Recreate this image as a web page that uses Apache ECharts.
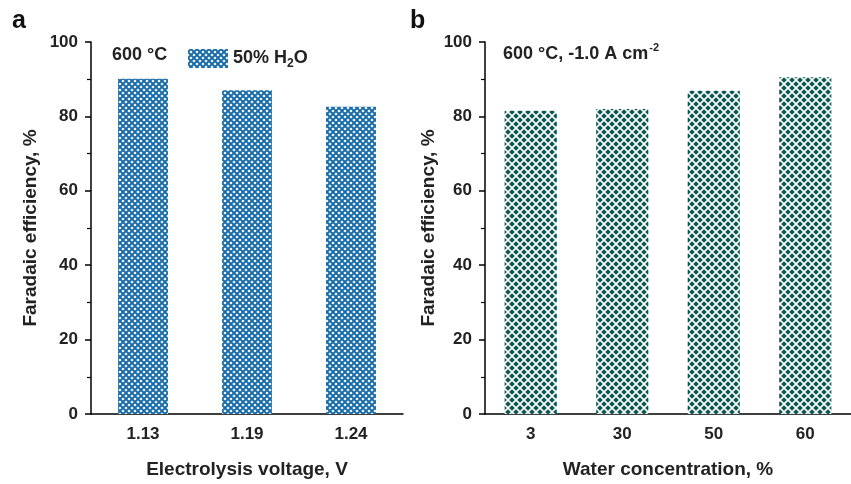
<!DOCTYPE html>
<html><head><meta charset="utf-8">
<script src="https://cdn.jsdelivr.net/npm/echarts@6/dist/echarts.min.js"></script>
<style>html,body{margin:0;padding:0;background:#fff}#c{width:851px;height:484px}</style>
</head><body><div id="c"></div>
<script>
// Panel a data
const voltageCats = ['1.13', '1.19', '1.24'];
const voltageFE = [90.1, 87.0, 82.6];
// Panel b data
const waterCats = ['3', '30', '50', '60'];
const waterFE = [81.5, 82.0, 86.9, 90.5];
const yTicks = [0, 20, 40, 60, 80, 100];

const FONT = '"Liberation Sans", Arial, sans-serif';
const BLUE = '#1b6ca8';
const TEAL = '#0b5852';

function diamond(g, cx, cy, r) {
  g.beginPath(); g.moveTo(cx, cy - r); g.lineTo(cx + r, cy); g.lineTo(cx, cy + r); g.lineTo(cx - r, cy); g.closePath(); g.fill();
}
function patA() {
  const s = 6, c = document.createElement('canvas'); c.width = s; c.height = s;
  const g = c.getContext('2d');
  g.fillStyle = BLUE; g.fillRect(0, 0, s, s);
  g.fillStyle = '#ffffff';
  const r = 1.6;
  [[3, 3], [0, 0], [6, 0], [0, 6], [6, 6]].forEach(p => diamond(g, p[0], p[1], r));
  return { image: c, repeat: 'repeat' };
}
function patB() {
  const s = 8, c = document.createElement('canvas'); c.width = s; c.height = s;
  const g = c.getContext('2d');
  g.fillStyle = '#ffffff'; g.fillRect(0, 0, s, s);
  g.fillStyle = TEAL;
  const r = 2.85;
  [[4, 4], [0, 0], [8, 0], [0, 8], [8, 8]].forEach(p => diamond(g, p[0], p[1], r));
  return { image: c, repeat: 'repeat' };
}

const axisLine = { lineStyle: { color: '#000', width: 1.5 } };
const lbl = { color: '#222', fontFamily: FONT, fontWeight: 'bold', fontSize: 17 };
const nameStyle = { color: '#222', fontFamily: FONT, fontWeight: 'bold', fontSize: 19 };

function xAx(idx, cats, name) {
  return {
    type: 'category', gridIndex: idx, data: cats, name: name,
    nameLocation: 'middle', nameGap: 46, nameTextStyle: nameStyle,
    axisLine: axisLine, axisTick: { alignWithLabel: true, length: 6, lineStyle: { color: '#000', width: 1.5 } },
    axisLabel: Object.assign({ margin: 12 }, lbl)
  };
}
function yAx(idx, gap) {
  return {
    type: 'value', gridIndex: idx, min: yTicks[0], max: yTicks[yTicks.length - 1], interval: 20,
    name: 'Faradaic efficiency, %', nameLocation: 'middle', nameGap: gap, nameTextStyle: nameStyle,
    axisLine: Object.assign({ show: true }, axisLine),
    axisTick: { show: true, length: 6, lineStyle: { color: '#000', width: 1.5 } },
    minorTick: { show: true, splitNumber: 2, length: 4, lineStyle: { color: '#000', width: 1.2 } },
    splitLine: { show: false },
    axisLabel: Object.assign({ margin: 13 }, lbl)
  };
}

const chart = echarts.init(document.getElementById('c'), null, { renderer: 'canvas' });
chart.setOption({
  animation: false,
  grid: [
    { left: 91, top: 42, width: 312, height: 373 },
    { left: 485, top: 42, width: 373, height: 373 }
  ],
  xAxis: [xAx(0, voltageCats, 'Electrolysis voltage, V'), xAx(1, waterCats, 'Water concentration, %')],
  yAxis: [yAx(0, 51), yAx(1, 47)],
  legend: {
    data: [{ name: '50% H2O', icon: 'rect' }], left: 183, top: 44, itemWidth: 40, itemHeight: 19, itemGap: 6,
    formatter: () => '{a|50% H}{s|2}{a|O}',
    textStyle: { rich: {
      a: { fontFamily: FONT, fontWeight: 'bold', fontSize: 18, color: '#222' },
      s: { fontFamily: FONT, fontWeight: 'bold', fontSize: 12, color: '#222', padding: [10, 0, 0, 0] }
    } }
  },
  graphic: [
    { type: 'text', left: 12, top: 9, style: { text: 'a', font: 'bold 25px ' + FONT, fill: '#111' } },
    { type: 'text', left: 410, top: 9, style: { text: 'b', font: 'bold 25px ' + FONT, fill: '#111' } },
    { type: 'text', left: 112, top: 46, style: { text: '600 °C', font: 'bold 18px ' + FONT, fill: '#222' } },
    { type: 'text', left: 503, top: 42, style: {
      text: '{a|600 °C, -1.0 A cm}{s|-2}',
      rich: {
        a: { font: 'bold 18px ' + FONT, fill: '#222', padding: [5, 0, 0, 0] },
        s: { font: 'bold 11px ' + FONT, fill: '#222', padding: [0, 0, 9, 1] }
      } } }
  ],
  series: [
    { name: '50% H2O', type: 'bar', xAxisIndex: 0, yAxisIndex: 0, data: voltageFE, barWidth: '48%',
      itemStyle: { color: patA() } },
    { name: 'water', type: 'bar', xAxisIndex: 1, yAxisIndex: 1, data: waterFE, barWidth: '57%',
      itemStyle: { color: patB() } }
  ]
});
</script></body></html>
